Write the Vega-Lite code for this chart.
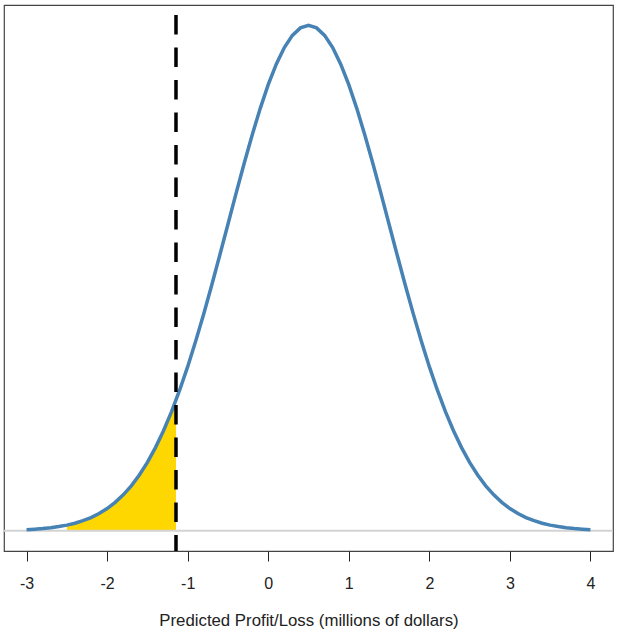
{
  "$schema": "https://vega.github.io/schema/vega-lite/v6.json",
  "width": 609,
  "height": 546,
  "autosize": "none",
  "padding": {"left": 4, "top": 5, "right": 5, "bottom": 85},
  "background": "white",
  "config": {
    "view": {"stroke": "#444", "strokeWidth": 1.2},
    "font": "Liberation Sans"
  },
  "datasets": {
    "curve": [
      {"x": -3.0, "d": 0.00087}, {"x": -2.9, "d": 0.00123}, {"x": -2.8, "d": 0.00172}, {"x": -2.7, "d": 0.00238},
      {"x": -2.6, "d": 0.00327}, {"x": -2.5, "d": 0.00443}, {"x": -2.4, "d": 0.00595}, {"x": -2.3, "d": 0.00792},
      {"x": -2.2, "d": 0.01042}, {"x": -2.1, "d": 0.01358}, {"x": -2.0, "d": 0.01753}, {"x": -1.9, "d": 0.02239},
      {"x": -1.8, "d": 0.02833}, {"x": -1.7, "d": 0.03547}, {"x": -1.6, "d": 0.04398}, {"x": -1.5, "d": 0.05399},
      {"x": -1.4, "d": 0.06562}, {"x": -1.3, "d": 0.07895}, {"x": -1.2, "d": 0.09405}, {"x": -1.1, "d": 0.11092},
      {"x": -1.0, "d": 0.12952}, {"x": -0.9, "d": 0.14973}, {"x": -0.8, "d": 0.17137}, {"x": -0.7, "d": 0.19419},
      {"x": -0.6, "d": 0.21785}, {"x": -0.5, "d": 0.24197}, {"x": -0.4, "d": 0.26609}, {"x": -0.3, "d": 0.28969},
      {"x": -0.2, "d": 0.31225}, {"x": -0.1, "d": 0.33322}, {"x": 0.0, "d": 0.35207}, {"x": 0.1, "d": 0.36827},
      {"x": 0.2, "d": 0.38139}, {"x": 0.3, "d": 0.39104}, {"x": 0.4, "d": 0.39695}, {"x": 0.5, "d": 0.39894},
      {"x": 0.6, "d": 0.39695}, {"x": 0.7, "d": 0.39104}, {"x": 0.8, "d": 0.38139}, {"x": 0.9, "d": 0.36827},
      {"x": 1.0, "d": 0.35207}, {"x": 1.1, "d": 0.33322}, {"x": 1.2, "d": 0.31225}, {"x": 1.3, "d": 0.28969},
      {"x": 1.4, "d": 0.26609}, {"x": 1.5, "d": 0.24197}, {"x": 1.6, "d": 0.21785}, {"x": 1.7, "d": 0.19419},
      {"x": 1.8, "d": 0.17137}, {"x": 1.9, "d": 0.14973}, {"x": 2.0, "d": 0.12952}, {"x": 2.1, "d": 0.11092},
      {"x": 2.2, "d": 0.09405}, {"x": 2.3, "d": 0.07895}, {"x": 2.4, "d": 0.06562}, {"x": 2.5, "d": 0.05399},
      {"x": 2.6, "d": 0.04398}, {"x": 2.7, "d": 0.03547}, {"x": 2.8, "d": 0.02833}, {"x": 2.9, "d": 0.02239},
      {"x": 3.0, "d": 0.01753}, {"x": 3.1, "d": 0.01358}, {"x": 3.2, "d": 0.01042}, {"x": 3.3, "d": 0.00792},
      {"x": 3.4, "d": 0.00595}, {"x": 3.5, "d": 0.00443}, {"x": 3.6, "d": 0.00327}, {"x": 3.7, "d": 0.00238},
      {"x": 3.8, "d": 0.00172}, {"x": 3.9, "d": 0.00123}, {"x": 4.0, "d": 0.00087}
    ],
    "shade": [
      {"x": -2.5, "d": 0.00443}, {"x": -2.4, "d": 0.00595}, {"x": -2.3, "d": 0.00792}, {"x": -2.2, "d": 0.01042},
      {"x": -2.1, "d": 0.01358}, {"x": -2.0, "d": 0.01753}, {"x": -1.9, "d": 0.02239}, {"x": -1.8, "d": 0.02833},
      {"x": -1.7, "d": 0.03547}, {"x": -1.6, "d": 0.04398}, {"x": -1.5, "d": 0.05399}, {"x": -1.4, "d": 0.06562},
      {"x": -1.3, "d": 0.07895}, {"x": -1.2, "d": 0.09405}, {"x": -1.145, "d": 0.10313}
    ],
    "cut": [{"x": -1.145}],
    "base": [{"y": 0}]
  },
  "layer": [
    {
      "data": {"name": "shade"},
      "mark": {"type": "area", "color": "#FFD700", "opacity": 1},
      "encoding": {
        "x": {"field": "x", "type": "quantitative",
              "scale": {"domain": [-3.28, 4.28], "nice": false, "zero": false},
              "axis": {
                "values": [-3, -2, -1, 0, 1, 2, 3, 4],
                "labelExpr": "datum.value + ''",
                "domain": false, "grid": false,
                "tickSize": 10, "tickColor": "#222", "tickWidth": 1,
                "labelFont": "Liberation Sans", "labelFontSize": 16, "labelColor": "#222",
                "labelPadding": 14,
                "title": "Predicted Profit/Loss (millions of dollars)",
                "titleFont": "Liberation Sans", "titleFontSize": 16.8, "titleFontWeight": "normal",
                "titleColor": "#222", "titlePadding": 21
              }},
        "y": {"field": "d", "type": "quantitative",
              "scale": {"domain": [-0.016, 0.415], "nice": false, "zero": false},
              "axis": null},
        "y2": {"datum": 0}
      }
    },
    {
      "data": {"name": "base"},
      "mark": {"type": "rule", "color": "#D3D3D3", "strokeWidth": 2},
      "encoding": {"y": {"field": "y", "type": "quantitative"}}
    },
    {
      "data": {"name": "curve"},
      "mark": {"type": "line", "color": "#4682B4", "strokeWidth": 3.5},
      "encoding": {
        "x": {"field": "x", "type": "quantitative"},
        "y": {"field": "d", "type": "quantitative"}
      }
    },
    {
      "data": {"name": "cut"},
      "mark": {"type": "rule", "color": "black", "strokeWidth": 3.5, "strokeDash": [19.5, 13], "strokeDashOffset": 22.5},
      "encoding": {"x": {"field": "x", "type": "quantitative"}}
    }
  ]
}
